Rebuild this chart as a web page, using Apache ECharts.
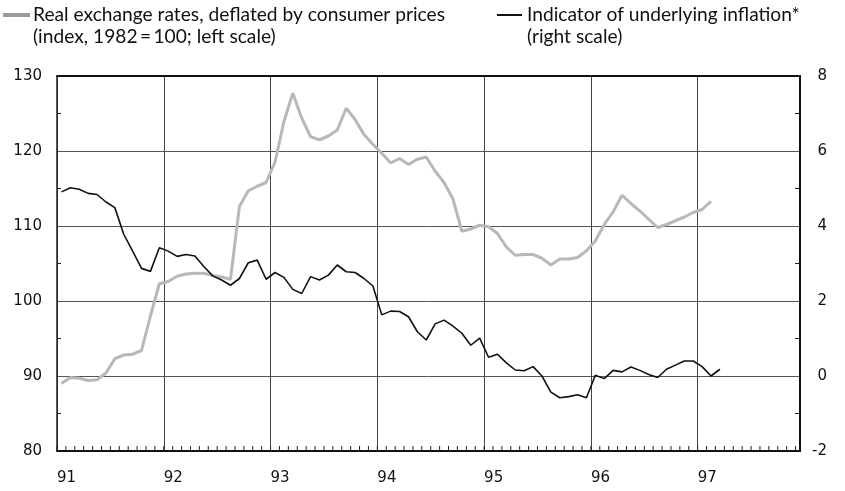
<!DOCTYPE html>
<html>
<head>
<meta charset="utf-8">
<script src="https://cdn.jsdelivr.net/npm/echarts@6.0.0/dist/echarts.min.js"></script>
<style>
html, body { margin: 0; padding: 0; background: #fff; }
#chart { width: 845px; height: 491px; }
</style>
</head>
<body>
<div id="chart"></div>
<script>
// monthly observations from Jan 1991, plotted at mid-month
const yearLabels = ['91', '92', '93', '94', '95', '96', '97']

// real exchange rates, deflated by consumer prices (index, 1982 = 100)
const exchangeRate = [
  89.0, 89.8, 89.7, 89.4, 89.5, 90.4, 92.3, 92.8, 92.9, 93.4, 98.0, 102.3,
  102.6, 103.3, 103.6, 103.7, 103.7, 103.4, 103.2, 102.9, 112.6, 114.7, 115.3, 115.8,
  118.5, 123.9, 127.7, 124.4, 121.9, 121.5, 122.0, 122.8, 125.7, 124.2, 122.2, 120.9,
  119.7, 118.4, 119.0, 118.2, 118.9, 119.2, 117.3, 115.8, 113.6, 109.3, 109.6, 110.1,
  109.9, 109.0, 107.2, 106.1, 106.2, 106.2, 105.7, 104.8, 105.6, 105.6, 105.8, 106.7,
  108.0, 110.2, 111.9, 114.1, 113.0, 112.0, 110.9, 109.8, 110.2, 110.7, 111.2, 111.8,
  112.2, 113.3,
]

// indicator of underlying inflation (right scale)
const inflation = [
  4.91, 5.02, 4.98, 4.87, 4.84, 4.64, 4.49, 3.78, 3.33, 2.87, 2.79, 3.42,
  3.33, 3.19, 3.24, 3.20, 2.92, 2.67, 2.56, 2.42, 2.60, 3.02, 3.09, 2.58,
  2.76, 2.63, 2.31, 2.20, 2.65, 2.56, 2.69, 2.96, 2.78, 2.76, 2.60, 2.40,
  1.63, 1.73, 1.72, 1.58, 1.18, 0.96, 1.39, 1.49, 1.33, 1.14, 0.82, 1.01,
  0.50, 0.58, 0.35, 0.16, 0.14, 0.25, 0.00, -0.43, -0.58, -0.55, -0.50, -0.58,
  0.02, -0.07, 0.15, 0.11, 0.24, 0.15, 0.04, -0.04, 0.18, 0.29, 0.40, 0.40,
  0.25, 0.00, 0.18,
]

// small tick marks: every month along the bottom, half steps on both scales
const monthTicks = Array.from({ length: 84 }, (_, i) => i)
const leftMinorTicks = [85, 95, 105, 115, 125]
const rightMinorTicks = [-1, 1, 3, 5, 7]

const legendRate = ['Real exchange rates, deflated by consumer prices', '(index, 1982\u2009=\u2009100; left scale)']
const legendInfl = ['Indicator of underlying inflation*', '(right scale)']

const axisFont = 'DejaVu Sans'
const legendFont = 'Lato'
const legendSize = 19
const tickLen = 4

// fit the legend face to the width of the original first line
const ctx = document.createElement('canvas').getContext('2d')
ctx.font = legendSize + 'px ' + legendFont
let squeeze = 412 / ctx.measureText(legendRate[0]).width
if (!(squeeze > 0.7 && squeeze < 1.3)) squeeze = 1

const chart = echarts.init(document.getElementById('chart'))

function legendText(x, y, text) {
  return {
    type: 'text',
    x: x,
    y: y,
    scaleX: squeeze,
    style: {
      text: text,
      fontFamily: legendFont,
      fontSize: legendSize,
      fill: '#111',
      verticalAlign: 'middle',
    },
  }
}

function tickLine(x1, y1, x2, y2) {
  return {
    type: 'line',
    shape: { x1: x1, y1: y1, x2: x2, y2: y2 },
    style: { stroke: '#222', lineWidth: 1 },
  }
}

function tickSeries(yAxisIndex, data, render) {
  return {
    type: 'custom',
    xAxisIndex: 0,
    yAxisIndex: yAxisIndex,
    silent: true,
    clip: false,
    z: 5,
    data: data,
    renderItem: render,
  }
}

chart.setOption({
  animation: false,
  backgroundColor: '#fff',
  grid: {
    left: 57,
    right: 45,
    top: 76,
    bottom: 40,
  },
  graphic: [
    { type: 'rect', shape: { x: 3, y: 13, width: 27, height: 4 }, style: { fill: '#9a9a9a' } },
    { type: 'rect', shape: { x: 497, y: 14, width: 25, height: 2 }, style: { fill: '#111' } },
    legendText(33, 15, legendRate[0]),
    legendText(33, 37, legendRate[1]),
    legendText(527, 15, legendInfl[0]),
    legendText(527, 37, legendInfl[1]),
  ],
  xAxis: [{
    type: 'value',
    position: 'bottom',
    min: 0,
    max: 83.5,
    interval: 12,
    axisLine: { show: true, onZero: false, lineStyle: { color: '#111', width: 2 } },
    axisTick: { show: false },
    splitLine: { show: true, lineStyle: { color: '#444', width: 1 } },
    axisLabel: {
      show: true,
      margin: 20,
      align: 'left',
      fontFamily: axisFont,
      fontSize: 15,
      color: '#111',
      formatter: v => (v % 12 === 0 ? yearLabels[v / 12] || '' : ''),
    },
  }, {
    // top frame
    type: 'value',
    position: 'top',
    min: 0,
    max: 83.5,
    axisLine: { show: true, onZero: false, lineStyle: { color: '#111', width: 2 } },
    axisTick: { show: false },
    splitLine: { show: false },
    axisLabel: { show: false },
  }],
  yAxis: [{
    type: 'value',
    position: 'left',
    min: 80,
    max: 130,
    interval: 10,
    axisLine: { show: true, onZero: false, lineStyle: { color: '#222', width: 1.5 } },
    axisTick: { show: false },
    splitLine: { show: true, lineStyle: { color: '#555', width: 1 } },
    axisLabel: { margin: 15, fontFamily: axisFont, fontSize: 15, color: '#111' },
  }, {
    type: 'value',
    position: 'right',
    min: -2,
    max: 8,
    interval: 2,
    axisLine: { show: true, onZero: false, lineStyle: { color: '#111', width: 2 } },
    axisTick: { show: false },
    splitLine: { show: false },
    axisLabel: { margin: 27, align: 'right', fontFamily: axisFont, fontSize: 15, color: '#111' },
  }],
  series: [{
    name: 'Real exchange rates',
    type: 'line',
    xAxisIndex: 0,
    yAxisIndex: 0,
    showSymbol: false,
    lineStyle: { color: '#b8b8b8', width: 3 },
    data: exchangeRate.map((v, i) => [i + 0.5, v]),
    z: 3,
  }, {
    name: 'Underlying inflation',
    type: 'line',
    xAxisIndex: 0,
    yAxisIndex: 1,
    showSymbol: false,
    lineStyle: { color: '#111', width: 1.6 },
    data: inflation.map((v, i) => [i + 0.5, v]),
    z: 4,
  },
  tickSeries(0, monthTicks, (params, api) => {
    const p = api.coord([api.value(0), 80])
    return tickLine(p[0], p[1] - 1, p[0], p[1] - 1 - tickLen)
  }),
  tickSeries(0, leftMinorTicks, (params, api) => {
    const p = api.coord([0, api.value(0)])
    return tickLine(p[0], p[1], p[0] + tickLen, p[1])
  }),
  tickSeries(1, rightMinorTicks, (params, api) => {
    const p = api.coord([83.5, api.value(0)])
    return tickLine(p[0] - 1, p[1], p[0] - 1 - tickLen, p[1])
  })],
})
</script>
</body>
</html>
